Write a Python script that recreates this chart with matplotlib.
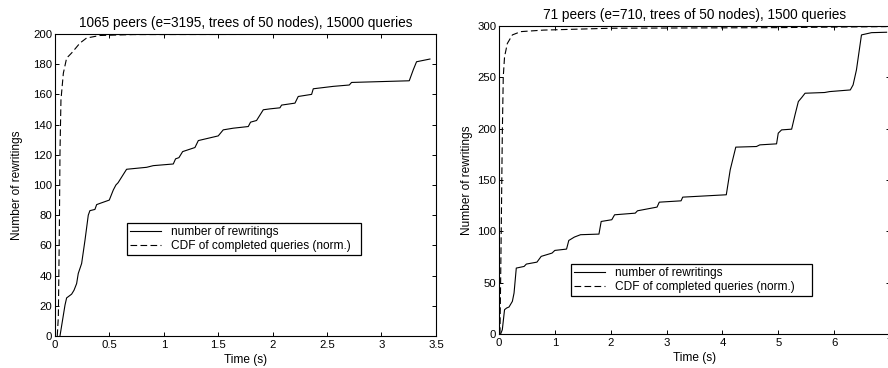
import matplotlib
matplotlib.use('Agg')
import matplotlib.pyplot as plt

plt.rcParams['font.family'] = ['Liberation Sans', 'DejaVu Sans']
plt.rcParams['font.size'] = 8.5

# left chart: 1065 peers
t1 = [0.046, 0.092, 0.107, 0.153, 0.175, 0.199, 0.214, 0.245, 0.276, 0.306, 0.321, 0.367,
      0.383, 0.413, 0.499, 0.536, 0.56, 0.58, 0.658, 0.842, 0.903, 1.087, 1.108, 1.139,
      1.173, 1.286, 1.317, 1.5, 1.546, 1.638, 1.776, 1.797, 1.852, 1.914, 1.975, 2.067,
      2.082, 2.205, 2.235, 2.358, 2.373, 2.557, 2.704, 2.725, 3.255, 3.292, 3.322, 3.445]
rw1 = [0, 20.4, 25.2, 27.7, 30.3, 34.7, 41.4, 48, 63.5, 80, 83, 83.8,
       87, 87.8, 90, 96.7, 100, 101.5, 110.4, 111.7, 112.8, 113.9, 117.3, 118.1,
       122.1, 124.8, 129.4, 132.5, 136.5, 137.6, 138.7, 141.6, 142.7, 149.8, 150.4, 151.1,
       152.9, 154.2, 158.6, 160, 163.7, 165.3, 166.2, 167.9, 169, 176.3, 181.6, 183.4]
tc1 = [0.021, 0.031, 0.04, 0.046, 0.055, 0.077, 0.107, 0.153, 0.23, 0.29, 0.413, 0.72, 3.475]
cdf1 = [0, 12.6, 68, 121, 156.4, 174, 184, 187.4, 194, 197.3, 199, 199.6, 199.8]

# right chart: 71 peers
t2 = [0.03, 0.06, 0.1, 0.137, 0.18, 0.24, 0.27, 0.31, 0.45, 0.49, 0.68, 0.756, 0.95, 1.0,
      1.21, 1.25, 1.35, 1.46, 1.79, 1.83, 2.02, 2.07, 2.44, 2.48, 2.83, 2.87, 3.26, 3.29,
      4.07, 4.14, 4.24, 4.61, 4.67, 4.97, 5.0, 5.06, 5.24, 5.30, 5.36, 5.42, 5.48, 5.83,
      5.92, 6.29, 6.34, 6.4, 6.49, 6.67, 6.94]
rw2 = [0, 4.2, 23.7, 25.3, 26.3, 31.8, 39.9, 64.2, 65.8, 68.1, 70, 75.6, 78.8, 81.4,
       82.7, 91.1, 94.4, 96.7, 97.3, 109.6, 111.3, 116.1, 117.7, 120, 123.6, 128.4, 129.7, 133.3,
       135.6, 159.9, 182, 182.6, 184.2, 185.2, 195.6, 198.8, 199.5, 213.4, 226.4, 230.3, 234.5, 235.2,
       236.1, 237.7, 242.6, 257.2, 291.3, 293.5, 293.9]
tc2 = [0.018, 0.04, 0.06, 0.077, 0.1, 0.15, 0.24, 0.39, 0.8, 2.0, 5.0, 6.94]
cdf2 = [0, 98, 195.6, 250.7, 270, 283, 291.3, 294.5, 296, 297.8, 298.4, 299.4]

titles = ['1065 peers (e=3195, trees of 50 nodes), 15000 queries',
          '71 peers (e=710, trees of 50 nodes), 1500 queries']
labels = ['number of rewritings', 'CDF of completed queries (norm.)']

fig = plt.figure(figsize=(8.88, 3.68), dpi=100)
ax1 = fig.add_axes([0.0619, 0.087, 0.429, 0.8207])
ax2 = fig.add_axes([0.5619, 0.0924, 0.4403, 0.837])

setups = [
    (ax1, titles[0], t1, rw1, tc1, cdf1, (0, 3.5), (0, 200), [0, 0.5, 1, 1.5, 2, 2.5, 3, 3.5],
     ['0', '0.5', '1', '1.5', '2', '2.5', '3', '3.5'], range(0, 201, 20),
     (0.189, 0.268, 0.614, 0.103), 7.5),
    (ax2, titles[1], t2, rw2, tc2, cdf2, (0, 7), (0, 300), range(0, 8),
     [str(i) for i in range(8)], range(0, 301, 50),
     (0.184, 0.123, 0.616, 0.098), 3),
]

for ax, title, t, rw, tc, cdf, xl, yl, xt, xtl, yt, lbox, ypad in setups:
    ax.plot(t, rw, color='black', lw=0.8, label=labels[0])
    ax.plot(tc, cdf, color='black', lw=0.8, ls=(0, (6, 3)), label=labels[1])
    ax.set_xlim(*xl)
    ax.set_ylim(*yl)
    ax.set_xticks(list(xt))
    ax.set_xticklabels(xtl)
    ax.set_yticks(list(yt))
    ax.tick_params(direction='in', top=True, right=True, length=3, width=0.7,
                   labelsize=8.2, pad=2, colors='black')
    ax.tick_params(axis='x', pad=3)
    for s in ax.spines.values():
        s.set_linewidth(0.8)
    ax.set_xlabel('Time (s)', fontsize=8.6, labelpad=3)
    ax.set_ylabel('Number of rewritings', fontsize=8.6, labelpad=ypad)
    ax.set_title(title, fontsize=9.8, pad=5)
    leg = ax.legend(loc='lower left', bbox_to_anchor=lbox, mode='expand',
                    borderaxespad=0, fancybox=False, edgecolor='black',
                    framealpha=1, fontsize=8.6, handlelength=2.6, borderpad=0.25,
                    labelspacing=0.15, handletextpad=0.8)
    leg.get_frame().set_linewidth(0.9)

plt.savefig('out.png', dpi=100)
